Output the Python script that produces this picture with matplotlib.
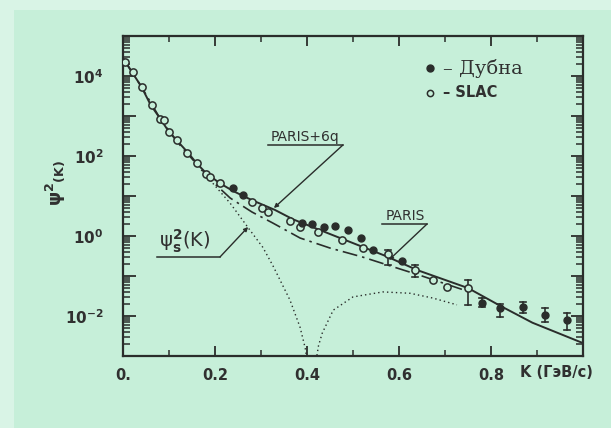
import numpy as np
import matplotlib
matplotlib.use('Agg')
import matplotlib.pyplot as plt
from matplotlib.ticker import FixedLocator, FuncFormatter, NullFormatter
from matplotlib.patches import Rectangle

plt.rcParams['font.family'] = ['DejaVu Sans']
plt.rcParams['mathtext.default'] = 'bf'

INK = '#2a2d2b'
BG = '#c6efd9'

# ---------------- data ----------------
# PARIS + 6q (solid curve)
k_full = [0.0, 0.04, 0.06, 0.08, 0.10, 0.14, 0.16, 0.18, 0.21, 0.24, 0.28,
          0.33, 0.37, 0.45, 0.57, 0.64, 0.75, 0.82, 0.89, 1.0]
psi_full = [2.8e4, 5.4e3, 1.9e3, 8.9e2, 4.0e2, 1.26e2, 66, 38, 21, 13.2, 7.9,
            4.5, 2.6, 1.12, 0.32, 0.14, 0.050, 0.018, 6.8e-3, 2.1e-3]

# PARIS (dash-dot curve)
k_paris = [0.0, 0.04, 0.08, 0.12, 0.16, 0.20, 0.233, 0.28, 0.326, 0.385,
           0.45, 0.52, 0.574, 0.65, 0.74]
psi_paris = [2.8e4, 5.4e3, 8.9e2, 2.1e2, 63, 20, 8.9, 4.0, 2.1, 0.89,
             0.5, 0.3, 0.19, 0.10, 0.045]

# S-wave part psi_s^2 (dotted curve, two branches around its zero)
k_s1 = [0.17, 0.20, 0.233, 0.276, 0.304, 0.326, 0.363, 0.385, 0.396, 0.40]
psi_s1 = [45, 18, 6.6, 1.4, 0.52, 0.18, 0.025, 5.2e-3, 1.6e-3, 8e-4]
k_s2 = [0.42, 0.425, 0.433, 0.457, 0.50, 0.565, 0.624, 0.674, 0.726]
psi_s2 = [8e-4, 1.8e-3, 3.7e-3, 0.014, 0.030, 0.040, 0.037, 0.028, 0.019]

# SLAC (open circles)
k_slac = [0.004, 0.022, 0.041, 0.063, 0.080, 0.089, 0.100, 0.117, 0.139,
          0.161, 0.180, 0.189, 0.211, 0.280, 0.302, 0.315, 0.363, 0.385,
          0.424, 0.476, 0.522, 0.576, 0.635, 0.674, 0.704, 0.750]
psi_slac = [2.24e4, 1.26e4, 5.3e3, 1.88e3, 8.4e2, 7.9e2, 4.0e2, 2.5e2, 1.19e2,
            67, 35, 30, 21, 7.1, 5.0, 4.0, 2.37, 1.68,
            1.26, 0.79, 0.50, 0.355, 0.141, 0.079, 0.053, 0.050]
# SLAC points with error bars
k_slac_err = [0.576, 0.635, 0.750]
slac_lo = [0.19, 0.094, 0.019]
slac_hi = [0.45, 0.19, 0.079]

# Dubna (filled circles)
k_dub = [0.239, 0.261, 0.389, 0.411, 0.437, 0.461, 0.489, 0.517, 0.543,
         0.607, 0.780, 0.820, 0.870, 0.917, 0.965]
psi_dub = [15.8, 10.7, 2.1, 2.0, 1.68, 1.78, 1.41, 0.89, 0.45,
           0.24, 0.021, 0.0158, 0.0168, 0.0106, 0.0079]
k_dub_err = [0.780, 0.820, 0.870, 0.917, 0.965]
dub_lo = [0.0168, 0.0094, 0.0119, 0.0071, 0.0045]
dub_hi = [0.028, 0.020, 0.0224, 0.0158, 0.0119]

x_ticks = [0.0, 0.2, 0.4, 0.6, 0.8]
x_ticklabels = ['0.', '0.2', '0.4', '0.6', '0.8']

# ---------------- figure ----------------
fig = plt.figure(figsize=(6.11, 4.28), dpi=100)
fig.patch.set_facecolor(BG)
fig.add_artist(Rectangle((0, 0), 14 / 611, 1, transform=fig.transFigure,
                         color='#d9f4e6', zorder=0, lw=0))
fig.add_artist(Rectangle((0, 1 - 10 / 428), 1, 10 / 428, transform=fig.transFigure,
                         color='#d9f4e6', zorder=0, lw=0))

ax = fig.add_axes([123 / 611, 1 - 356 / 428, 460 / 611, 320 / 428])
ax.set_facecolor('none')
ax.set_yscale('log')
ax.set_xlim(0, 1.0)
ax.set_ylim(1e-3, 1e5)

for s in ax.spines.values():
    s.set_linewidth(1.6)
    s.set_color(INK)

# curves
ax.plot(k_full, psi_full, color=INK, lw=1.4, zorder=3)
ax.plot(k_paris, psi_paris, color=INK, lw=1.2, ls=(0, (9, 3, 1.5, 3)), zorder=3)
ax.plot(k_s1, psi_s1, color=INK, lw=1.0, ls=(0, (1, 2.2)), zorder=3)
ax.plot(k_s2, psi_s2, color=INK, lw=1.0, ls=(0, (1, 2.2)), zorder=3)

# error bars
def ebars(k, lo, hi):
    for kk, l, h in zip(k, lo, hi):
        ax.plot([kk, kk], [l, h], color=INK, lw=1.2, zorder=4)
        for v in (l, h):
            ax.plot([kk - 0.006, kk + 0.006], [v, v], color=INK, lw=1.2, zorder=4)

ebars(k_slac_err, slac_lo, slac_hi)
ebars(k_dub_err, dub_lo, dub_hi)

# data points
ax.plot(k_slac, psi_slac, ls='none', marker='o', ms=5.2, mfc=BG, mec=INK,
        mew=1.1, zorder=5)
ax.plot(k_dub, psi_dub, ls='none', marker='o', ms=5, mfc=INK, mec=INK,
        zorder=5)

# ticks
decades = [10.0 ** e for e in range(-3, 6)]
minors = [m * 10.0 ** e for e in range(-3, 5) for m in range(2, 10)]
ax.yaxis.set_major_locator(FixedLocator(decades))
ax.yaxis.set_minor_locator(FixedLocator(minors))

def yfmt(v, pos):
    e = int(round(np.log10(v)))
    if e % 2 == 0 and -2 <= e <= 4:
        return r'$10^{%d}$' % e
    return ''

ax.yaxis.set_major_formatter(FuncFormatter(yfmt))
ax.yaxis.set_minor_formatter(NullFormatter())
ax.set_xticks(x_ticks)
ax.set_xticklabels(x_ticklabels)
ax.set_xticks([0.1, 0.3, 0.5, 0.7, 0.9], minor=True)

ax.tick_params(axis='both', which='both', direction='in', top=True, right=True,
               colors=INK, labelcolor='#303030')
ax.tick_params(axis='y', which='major', length=9, width=1.3, pad=14, labelsize=11)
ax.tick_params(axis='y', which='minor', length=5, width=1.1)
ax.tick_params(axis='x', which='major', length=7, width=1.3, pad=9, labelsize=10.5)
ax.tick_params(axis='x', which='minor', length=4, width=1.1)
for lab in ax.get_xticklabels():
    lab.set_fontweight('bold')

ax.text(1.022, -0.053, 'K (ГэВ/с)', transform=ax.transAxes, ha='right',
        va='center', fontsize=10.5, fontweight='bold', color='#303030')
fig.text(55 / 611, 1 - 183 / 428, r'ψ${}^{2}{}_{(K)}$', rotation=90,
         ha='center', va='center', fontsize=13, fontweight='bold', color='#303030')

# legend (custom)
ax.plot([0.667], [0.9], transform=ax.transAxes, marker='o', ms=5, color=INK,
        ls='none', clip_on=False)
ax.text(0.695, 0.9, '– Дубна', transform=ax.transAxes, ha='left', va='center',
        fontsize=14, family='DejaVu Serif', color='#303030')
ax.plot([0.667], [0.822], transform=ax.transAxes, marker='o', ms=4.5, mfc=BG,
        mec=INK, mew=1.1, ls='none', clip_on=False)
ax.text(0.695, 0.822, '– SLAC', transform=ax.transAxes, ha='left', va='center',
        fontsize=10.5, fontweight='bold', color='#303030')

# curve labels with leaders
def label(text, xy_text, ul, leader_to, size=10):
    ax.text(xy_text[0], xy_text[1], text, ha='center', va='bottom',
            fontsize=size, color='#303030')
    ax.plot([ul[0], ul[1]], [ul[2], ul[2]], color=INK, lw=1.1)
    ax.annotate('', xy=leader_to, xytext=(ul[1], ul[2]),
                arrowprops=dict(arrowstyle='-|>', color=INK, lw=1.0,
                                mutation_scale=6, shrinkA=0, shrinkB=0))

label('PARIS+6q', (0.396, 200), (0.315, 0.478, 188), (0.328, 5.0))
label('PARIS', (0.613, 2.1), (0.563, 0.661, 2.0), (0.578, 0.25))

ax.text(0.078, 0.33, r'ψ${}_{s}^{2}$(K)', ha='left', va='bottom', fontsize=14,
        fontweight='normal', color='#303030')
ax.plot([0.074, 0.211], [0.30, 0.30], color=INK, lw=1.1)
ax.annotate('', xy=(0.272, 1.68), xytext=(0.211, 0.30),
            arrowprops=dict(arrowstyle='-|>', color=INK, lw=1.0,
                            mutation_scale=6, shrinkA=0, shrinkB=0))

fig.savefig('out.png', dpi=100, facecolor=fig.get_facecolor())
